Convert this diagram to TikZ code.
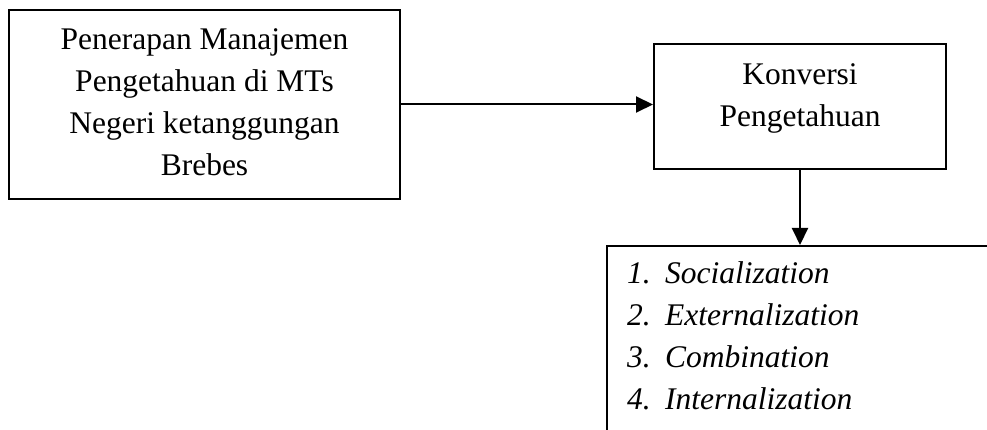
\documentclass[tikz,border=0pt]{standalone}
\usepackage{fontspec}
\setmainfont{Liberation Serif}
\usetikzlibrary{arrows.meta}
\tikzset{
 kotak/.style={shape=rectangle,draw=black,line width=2pt,inner sep=0pt},
 teks/.style={inner sep=0pt,align=center,font=\fontsize{31.5}{42}\selectfont},
 panah/.style={line width=2pt,-{Triangle[length=17pt,width=16pt]}}
}
\begin{document}
\begin{tikzpicture}[x=1pt,y=1pt]
 \useasboundingbox (0,0) rectangle (987,-430);
 \node (kotak 1) at (204.5,-104.5) [kotak,minimum width=391pt,minimum height=189pt] {};
 \node (kotak 2) at (800,-106.5) [kotak,minimum width=292pt,minimum height=125pt] {};
 \node (kotak 3) at (606,-245) [kotak,anchor=north west,minimum width=420pt,minimum height=220pt] {};
 \node (teks 1) at (204.5,-102.5) [teks] {Penerapan Manajemen\\Pengetahuan di MTs\\Negeri ketanggungan\\Brebes};
 \node (teks 2) at (800,-98.7) [teks] {Konversi\\Pengetahuan};
 \node (teks 3) at (627,-261.5) [teks,anchor=north west,align=left,font=\fontsize{31.5}{42}\selectfont\itshape]
  {\makebox[38pt][l]{1.}Socialization\\\makebox[38pt][l]{2.}Externalization\\\makebox[38pt][l]{3.}Combination\\\makebox[38pt][l]{4.}Internalization};
 \draw[panah] (kotak 1.east) -- (kotak 1.east -| kotak 2.west);
 \draw[panah] (kotak 2.south) -- (kotak 2.south |- kotak 3.north);
\end{tikzpicture}
\end{document}
